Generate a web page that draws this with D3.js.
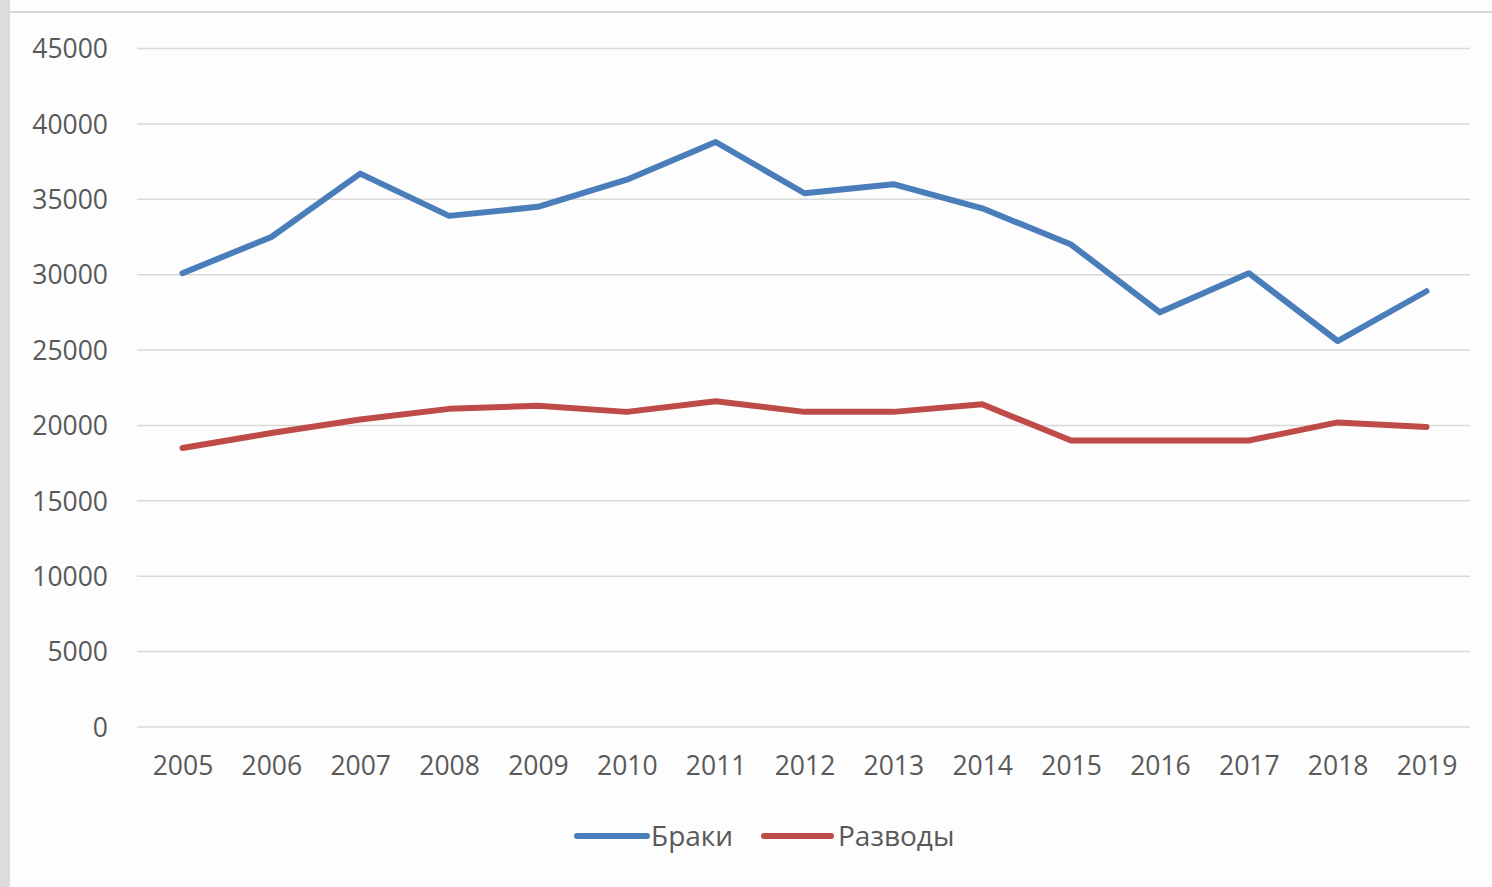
<!DOCTYPE html>
<html><head><meta charset="utf-8">
<script src="https://cdn.jsdelivr.net/npm/d3@7"></script>
<style>
html,body{margin:0;padding:0;background:#fff;}
svg{display:block;}
</style></head>
<body>
<svg id="chart" width="1492" height="887"></svg>
<script>
const years = [2005,2006,2007,2008,2009,2010,2011,2012,2013,2014,2015,2016,2017,2018,2019];
const marriages = [30100,32500,36700,33900,34500,36300,38800,35400,36000,34400,32000,27500,30100,25600,28900];
const divorces = [18500,19500,20400,21100,21300,20900,21600,20900,20900,21400,19000,19000,19000,20200,19900];
const yTicks = [0,5000,10000,15000,20000,25000,30000,35000,40000,45000];
const seriesNames = ["Браки","Разводы"];
const seriesColors = ["#4A7EBB","#BE4B48"];

const svg = d3.select("#chart");
const font = "'Open Sans', 'DejaVu Sans', sans-serif";

// background & frame
svg.append("rect").attr("x",0).attr("y",0).attr("width",1492).attr("height",887).attr("fill","#fdfdfd");
svg.append("rect").attr("x",0).attr("y",0).attr("width",10).attr("height",887).attr("fill","#dcdcdc");
svg.append("line").attr("x1",10).attr("x2",1492).attr("y1",12).attr("y2",12).attr("stroke","#d6d6d6").attr("stroke-width",2);

const plotLeft = 137, plotRight = 1470, plotTop = 48.5, plotBottom = 727;
const x = d3.scalePoint().domain(years).range([182.5, 1426.5]);
const y = d3.scaleLinear().domain([0,45000]).range([plotBottom, plotTop]);

// gridlines
svg.append("g").selectAll("line").data(yTicks).join("line")
  .attr("x1",plotLeft).attr("x2",plotRight)
  .attr("y1",d=>y(d)).attr("y2",d=>y(d))
  .attr("stroke","#d9d9d9").attr("stroke-width",1.5);

// y axis labels
const yAxis = d3.axisLeft(y).tickValues(yTicks).tickSize(0).tickPadding(0).tickFormat(d3.format("d"));
const gy = svg.append("g").attr("transform",`translate(108,0)`).call(yAxis);
gy.select(".domain").remove();
gy.selectAll("text").attr("font-family",font).attr("font-size",26.5).attr("fill","#595959").attr("dy","0.35em");

// x axis labels
const xAxis = d3.axisBottom(x).tickSize(0).tickPadding(0).tickFormat(d=>String(d));
const gx = svg.append("g").attr("transform",`translate(0,766)`).call(xAxis);
gx.select(".domain").remove();
gx.selectAll("text").attr("font-family",font).attr("font-size",26.5).attr("fill","#595959").attr("dy","0.35em");

// lines
const line = d3.line().x((d,i)=>x(years[i])).y(d=>y(d));
[marriages, divorces].forEach((s,i)=>{
  svg.append("path").datum(s).attr("d",line)
    .attr("fill","none").attr("stroke",seriesColors[i]).attr("stroke-width",6)
    .attr("stroke-linejoin","round").attr("stroke-linecap","round");
});

// legend
const legendItems = [{x1:577,x2:647,tx:651},{x1:764,x2:831,tx:838}];
legendItems.forEach((p,i)=>{
  svg.append("line").attr("x1",p.x1).attr("x2",p.x2).attr("y1",836).attr("y2",836)
    .attr("stroke",seriesColors[i]).attr("stroke-width",6).attr("stroke-linecap","round");
  svg.append("text").attr("x",p.tx).attr("y",836).attr("dy","0.35em")
    .attr("font-family",font).attr("font-size",28).attr("fill","#595959").text(seriesNames[i]);
});
</script>
</body></html>
